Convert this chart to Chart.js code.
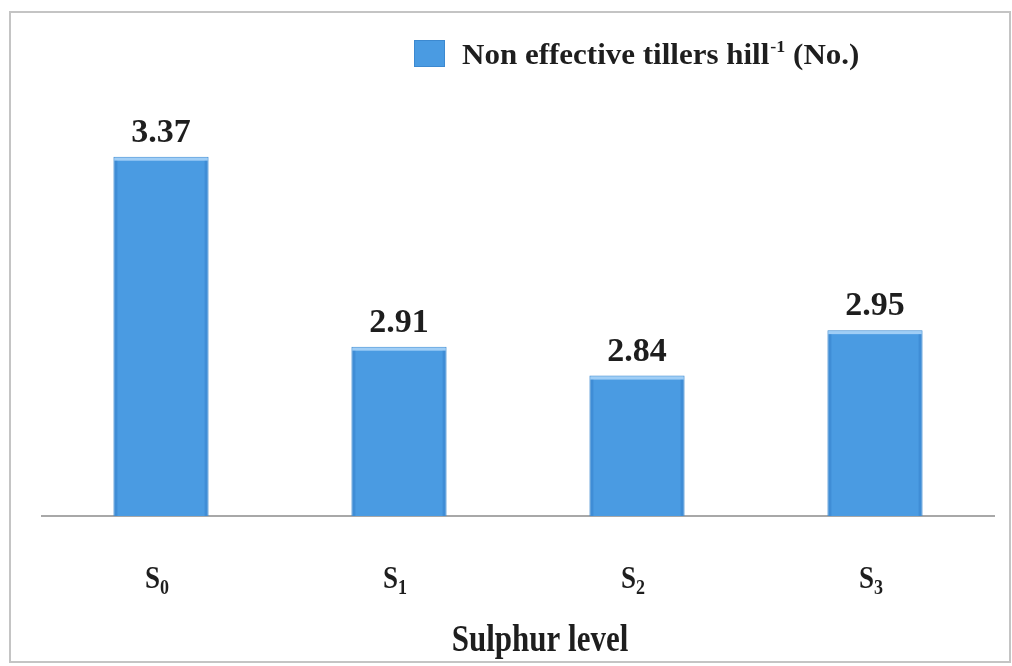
<!DOCTYPE html>
<html>
<head>
<meta charset="utf-8">
<script src="https://cdn.jsdelivr.net/npm/chart.js@4.4.1/dist/chart.umd.min.js"></script>
<style>
  html, body { margin: 0; padding: 0; background: #ffffff; }
  #wrap { width: 1012px; height: 666px; }
</style>
</head>
<body>
<div id="wrap"><canvas id="c" width="1012" height="666"></canvas></div>
<script>
// Sulphur levels and non effective tillers per hill
const levelBase = ['S', 'S', 'S', 'S'];
const levelSub = ['0', '1', '2', '3'];
const categories = ['S0', 'S1', 'S2', 'S3'];
const tillers = [3.37, 2.91, 2.84, 2.95];
const seriesName = 'Non effective tillers hill';
const seriesSup = '-1';
const seriesUnit = ' (No.)';
const axisTitle = 'Sulphur level';

const SERIF = '"Liberation Serif", "Times New Roman", serif';
const BAR_BLUE = '#4a9be2';
const INK = '#1e1e1e';

// draw text stretched vertically around its baseline
function tallText(ctx, str, x, y, sy) {
  ctx.save();
  ctx.translate(x, y);
  ctx.scale(1, sy);
  ctx.fillText(str, 0, 0);
  ctx.restore();
}

// outer frame around the chart
const framePlugin = {
  id: 'frame',
  beforeDraw(chart) {
    const ctx = chart.ctx;
    ctx.save();
    ctx.fillStyle = '#ffffff';
    ctx.fillRect(0, 0, chart.width, chart.height);
    ctx.strokeStyle = '#c4c4c4';
    ctx.lineWidth = 2;
    ctx.strokeRect(10, 12, 1000, 650);
    ctx.restore();
  }
};

// legend entry with superscript
const legendPlugin = {
  id: 'legendSup',
  afterDraw(chart) {
    const ctx = chart.ctx;
    ctx.save();
    ctx.fillStyle = BAR_BLUE;
    ctx.fillRect(414, 40, 31, 27);
    ctx.strokeStyle = '#3c89d0';
    ctx.lineWidth = 1;
    ctx.strokeRect(414.5, 40.5, 30, 26);
    ctx.fillStyle = INK;
    ctx.textBaseline = 'alphabetic';
    ctx.textAlign = 'left';
    let x = 462;
    const base = 64;
    ctx.font = 'bold 31px ' + SERIF;
    tallText(ctx, seriesName, x, base, 0.95);
    x += ctx.measureText(seriesName).width;
    ctx.font = 'bold 18px ' + SERIF;
    tallText(ctx, seriesSup, x + 1, base - 12, 0.95);
    x += ctx.measureText(seriesSup).width + 1;
    ctx.font = 'bold 31px ' + SERIF;
    tallText(ctx, seriesUnit, x, base, 0.95);
    ctx.restore();
  }
};

// bar bevel, value labels, subscripted category labels, axis title
const labelPlugin = {
  id: 'barLabels',
  afterDatasetsDraw(chart) {
    const ctx = chart.ctx;
    const area = chart.chartArea;
    const meta = chart.getDatasetMeta(0);
    ctx.save();
    meta.data.forEach((bar, i) => {
      const w = bar.width;
      const bottom = area.bottom;
      // lighter bevel along the top edge, darker along the sides
      ctx.fillStyle = 'rgba(170,212,248,0.9)';
      ctx.fillRect(bar.x - w / 2 + 1, bar.y + 1, w - 2, 3);
      ctx.fillStyle = 'rgba(40,110,185,0.3)';
      ctx.fillRect(bar.x - w / 2 + 1, bar.y + 4, 3, bottom - bar.y - 4);
      ctx.fillRect(bar.x + w / 2 - 4, bar.y + 4, 3, bottom - bar.y - 4);

      ctx.fillStyle = INK;
      ctx.font = 'bold 34px ' + SERIF;
      ctx.textAlign = 'center';
      ctx.textBaseline = 'alphabetic';
      tallText(ctx, tillers[i].toFixed(2), bar.x, bar.y - 15, 1.0);
    });

    const xs = chart.scales.x;
    categories.forEach((c, i) => {
      const cx = xs.getPixelForValue(i);
      ctx.font = 'bold 27px ' + SERIF;
      const wS = ctx.measureText(levelBase[i]).width;
      ctx.font = 'bold 18px ' + SERIF;
      const wD = ctx.measureText(levelSub[i]).width;
      const left = cx - (wS + wD) / 2 - 4;
      ctx.fillStyle = INK;
      ctx.textAlign = 'left';
      ctx.font = 'bold 27px ' + SERIF;
      tallText(ctx, levelBase[i], left, 588, 1.15);
      ctx.font = 'bold 18px ' + SERIF;
      tallText(ctx, levelSub[i], left + wS, 594, 1.15);
    });

    ctx.font = 'bold 31px ' + SERIF;
    ctx.textAlign = 'center';
    tallText(ctx, axisTitle, 540, 651, 1.2);
    ctx.restore();
  }
};

new Chart(document.getElementById('c'), {
  type: 'bar',
  data: {
    labels: categories,
    datasets: [{
      label: seriesName,
      data: tillers,
      backgroundColor: BAR_BLUE,
      borderColor: '#3c89d0',
      borderWidth: 1,
      barPercentage: 0.4,
      categoryPercentage: 1.0
    }]
  },
  options: {
    responsive: false,
    animation: false,
    devicePixelRatio: 1,
    layout: { padding: { left: 42, right: 18, top: 103, bottom: 150 } },
    plugins: {
      legend: { display: false },
      tooltip: { enabled: false }
    },
    scales: {
      y: { display: false, min: 2.5, max: 3.5 },
      x: {
        grid: { display: false, drawTicks: false },
        ticks: { display: false },
        border: { display: true, color: '#a8a8a8', width: 2 }
      }
    }
  },
  plugins: [framePlugin, legendPlugin, labelPlugin]
});
</script>
</body>
</html>
